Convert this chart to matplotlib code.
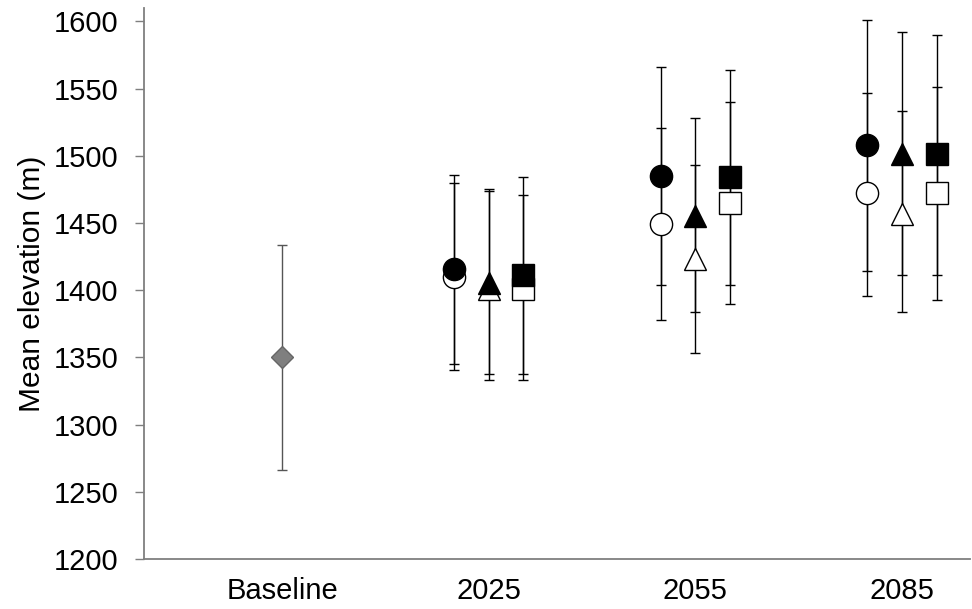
import matplotlib

matplotlib.use("Agg")
import matplotlib.pyplot as plt

plt.rcParams["font.family"] = ["Liberation Sans", "DejaVu Sans"]

categories = ["Baseline", "2025", "2055", "2085"]

# baseline (single point)
base_mean = [1350]
base_lo = [1266]
base_hi = [1434]

# future periods: 2025, 2055, 2085
circle_filled_mean = [1416, 1485, 1508]
circle_filled_lo = [1345, 1404, 1414]
circle_filled_hi = [1486, 1566, 1601]

circle_open_mean = [1410, 1449, 1472]
circle_open_lo = [1341, 1378, 1396]
circle_open_hi = [1480, 1521, 1547]

tri_filled_mean = [1405, 1455, 1501]
tri_filled_lo = [1338, 1384, 1411]
tri_filled_hi = [1475, 1528, 1592]

tri_open_mean = [1401, 1423, 1457]
tri_open_lo = [1333, 1353, 1384]
tri_open_hi = [1474, 1493, 1533]

sq_filled_mean = [1411, 1484, 1501]
sq_filled_lo = [1338, 1404, 1411]
sq_filled_hi = [1484, 1564, 1590]

sq_open_mean = [1401, 1465, 1472]
sq_open_lo = [1333, 1390, 1393]
sq_open_hi = [1471, 1540, 1551]

SPINE = "#7f7f7f"

fig = plt.figure(figsize=(9.72, 6.09), dpi=100)
ax = fig.add_axes([0.148, 0.082, 0.85, 0.905])

future_x = [1, 2, 3]
OFF = 0.168


def draw(xs, mean, lo, hi, marker, filled, ms, ecolor="black", fcolor="black", ecol_marker="black", z=3):
    yerr = [[m - l for m, l in zip(mean, lo)], [h - m for m, h in zip(mean, hi)]]
    ax.errorbar(xs, mean, yerr=yerr, fmt="none", ecolor=ecolor, elinewidth=1.0,
                capsize=3.6, capthick=1.0, zorder=2)
    ax.plot(xs, mean, linestyle="none", marker=marker, markersize=ms,
            markerfacecolor=fcolor if filled else "white",
            markeredgecolor=ecol_marker, markeredgewidth=1.0, zorder=z)


draw([0], base_mean, base_lo, base_hi, "D", True, 11.2,
     ecolor="#555555", fcolor="#7f7f7f", ecol_marker="#666666")

xc = [x - OFF for x in future_x]
xt = list(future_x)
xs = [x + OFF for x in future_x]
draw(xc, circle_open_mean, circle_open_lo, circle_open_hi, "o", False, 16, z=3)
draw(xc, circle_filled_mean, circle_filled_lo, circle_filled_hi, "o", True, 16, z=4)
draw(xt, tri_open_mean, tri_open_lo, tri_open_hi, "^", False, 16, z=3)
draw(xt, tri_filled_mean, tri_filled_lo, tri_filled_hi, "^", True, 16, z=4)
draw(xs, sq_open_mean, sq_open_lo, sq_open_hi, "s", False, 15.5, z=3)
draw(xs, sq_filled_mean, sq_filled_lo, sq_filled_hi, "s", True, 15.5, z=4)

ax.set_xlim(-0.67, 3.33)
ax.set_ylim(1200, 1610)
ax.set_yticks(range(1200, 1601, 50))
ax.set_xticks(range(len(categories)))
ax.set_xticklabels(categories)
ax.set_ylabel("Mean elevation (m)", fontsize=21.5, labelpad=5)

ax.tick_params(axis="y", direction="out", length=6.5, width=1.0, color=SPINE,
               labelsize=21, pad=12)
ax.tick_params(axis="x", length=0, labelsize=21, pad=13)

for side in ("top", "right"):
    ax.spines[side].set_visible(False)
for side in ("left", "bottom"):
    ax.spines[side].set_color(SPINE)
    ax.spines[side].set_linewidth(1.3)

fig.savefig("out.png", dpi=100, facecolor="white")
